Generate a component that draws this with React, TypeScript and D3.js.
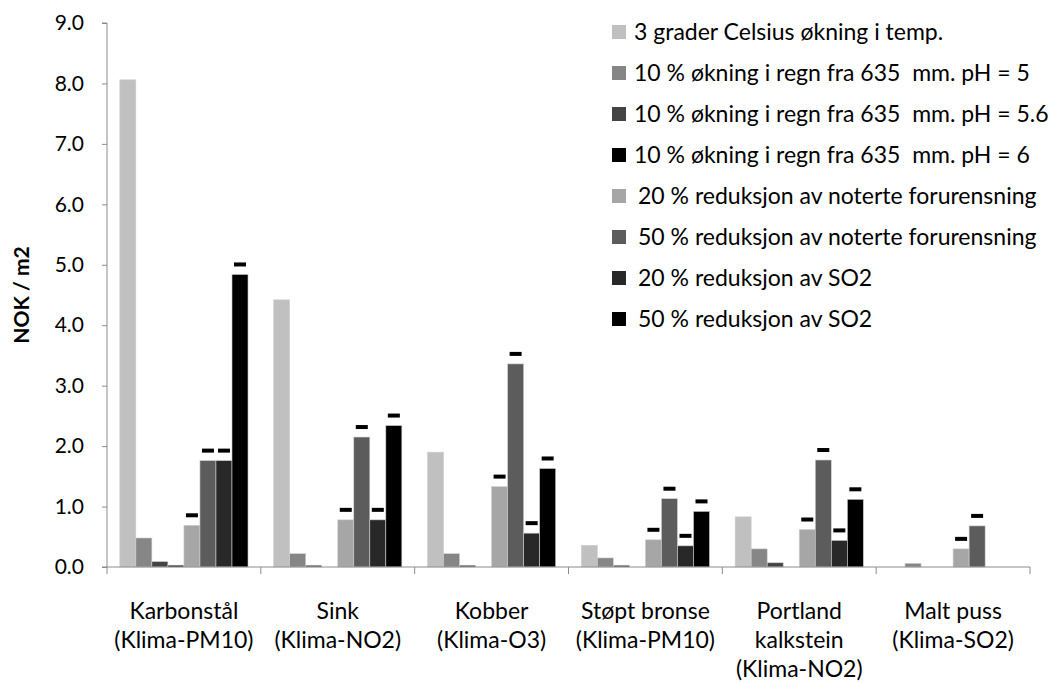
import { useRef, useEffect } from "react";
import * as d3 from "d3";

const categories = [
  ["Karbonstål", "(Klima-PM10)"],
  ["Sink", "(Klima-NO2)"],
  ["Kobber", "(Klima-O3)"],
  ["Støpt bronse", "(Klima-PM10)"],
  ["Portland", "kalkstein", "(Klima-NO2)"],
  ["Malt puss", "(Klima-SO2)"],
];

const seriesNames = [
  "3 grader Celsius økning i temp.",
  "10 % økning i regn fra 635  mm. pH = 5",
  "10 % økning i regn fra 635  mm. pH = 5.6",
  "10 % økning i regn fra 635  mm. pH = 6",
  "20 % reduksjon av noterte forurensning",
  "50 % reduksjon av noterte forurensning",
  "20 % reduksjon av SO2",
  "50 % reduksjon av SO2",
];

const seriesColors = ["#c0c0c0", "#868686", "#444444", "#000000", "#a6a6a6", "#5c5c5c", "#282828", "#000000"];

// values per series, one per category
const values = [
  [8.06, 4.42, 1.9, 0.36, 0.83, 0],
  [0.48, 0.22, 0.22, 0.15, 0.3, 0.06],
  [0.09, 0.03, 0.03, 0.03, 0.07, 0],
  [0.03, 0, 0, 0, 0, 0],
  [0.69, 0.78, 1.33, 0.45, 0.62, 0.3],
  [1.76, 2.15, 3.36, 1.13, 1.77, 0.68],
  [1.76, 0.78, 0.56, 0.35, 0.44, 0],
  [4.84, 2.34, 1.63, 0.92, 1.12, 0],
];

// series that carry a "–" label above the bar
const labelledSeries = [4, 5, 6, 7];

const yTicks = [0, 1, 2, 3, 4, 5, 6, 7, 8, 9];

const FONT = "Lato, 'Open Sans', sans-serif";

export default function App() {
  const ref = useRef<SVGSVGElement>(null);
  useEffect(() => {
    if (!ref.current) return;
    const svg = d3.select(ref.current);
    svg.selectAll("*").remove();
    const W = 1049, H = 683;
    const left = 107, right = 1030, top = 23, bottom = 567;
    svg.attr("width", W).attr("height", H);

    const x0 = d3.scaleBand<number>().domain(d3.range(categories.length)).range([left, right]).paddingInner(0).paddingOuter(0);
    const x1 = d3.scaleBand<number>().domain(d3.range(seriesNames.length)).range([0, x0.bandwidth()]).paddingInner(0).paddingOuter(0.8);
    const y = d3.scaleLinear().domain([0, 9]).range([bottom, top]);

    const rows = values.flatMap((vals, s) => vals.map((v, c) => ({ s, c, v })));

    svg.append("g").selectAll("rect").data(rows.filter(d => d.v > 0)).join("rect")
      .attr("x", d => x0(d.c)! + x1(d.s)!)
      .attr("y", d => y(d.v))
      .attr("width", x1.bandwidth())
      .attr("height", d => y(0) - y(d.v))
      .attr("fill", d => seriesColors[d.s])
      .attr("stroke", "#d0d0d0").attr("stroke-width", 0.6);

    svg.append("g").selectAll("rect").data(rows.filter(d => d.v > 0 && labelledSeries.includes(d.s))).join("rect")
      .attr("x", d => x0(d.c)! + x1(d.s)! + x1.bandwidth() / 2 - 6)
      .attr("y", d => y(d.v) - 12)
      .attr("width", 12).attr("height", 4)
      .attr("fill", "#000");

    // y axis
    const ya = svg.append("g").attr("transform", `translate(${left},0)`)
      .call(d3.axisLeft(y).tickValues(yTicks).tickFormat(d3.format(".1f")).tickSize(5).tickPadding(18));
    ya.select(".domain").attr("stroke", "#8c8c8c").attr("d", `M-5,${top}H0V${bottom}H-5`);
    ya.selectAll(".tick line").attr("stroke", "#8c8c8c");
    ya.selectAll(".tick text").attr("fill", "#000").attr("font-size", "21px").attr("font-family", FONT);

    // x axis
    const xa = svg.append("g").attr("transform", `translate(0,${bottom})`);
    xa.append("path").attr("d", `M${left},0H${right}`).attr("stroke", "#8c8c8c").attr("fill", "none");
    xa.selectAll("line").data(d3.range(categories.length + 1)).join("line")
      .attr("x1", i => (i < categories.length ? x0(i)! : right)).attr("x2", i => (i < categories.length ? x0(i)! : right))
      .attr("y1", 0).attr("y2", 7).attr("stroke", "#8c8c8c");
    const lbl = xa.selectAll("text").data(categories).join("text")
      .attr("text-anchor", "middle").attr("font-size", "23px").attr("font-family", FONT).attr("fill", "#000");
    lbl.selectAll("tspan").data((d, i) => d.map(t => ({ t, i }))).join("tspan")
      .attr("x", d => x0(d.i)! + x0.bandwidth() / 2)
      .attr("y", (_, k) => 52 + k * 29)
      .text(d => d.t);

    // y title
    svg.append("text").attr("transform", `translate(29,${(top + bottom) / 2}) rotate(-90)`)
      .attr("text-anchor", "middle").attr("font-size", "21px").attr("font-weight", "700").attr("font-family", FONT)
      .text("NOK / m2");

    // legend
    const lg = svg.append("g").attr("transform", "translate(612,32)");
    const item = lg.selectAll("g").data(seriesNames).join("g").attr("transform", (_, i) => `translate(0,${i * 41})`);
    item.append("rect").attr("x", 0).attr("y", -7).attr("width", 14).attr("height", 14).attr("fill", (_, i) => seriesColors[i]);
    item.append("text").attr("x", (_, i) => (i < 4 ? 22 : 26)).attr("y", 8)
      .attr("font-size", "23px").attr("font-family", FONT).attr("fill", "#000")
      .attr("xml:space", "preserve").style("white-space", "pre")
      .text(d => d);
  }, []);

  return (
    <div style={{ position: "absolute", left: 0, top: 0, background: "#fff" }}>
      <svg ref={ref} style={{ display: "block" }} />
    </div>
  );
}
